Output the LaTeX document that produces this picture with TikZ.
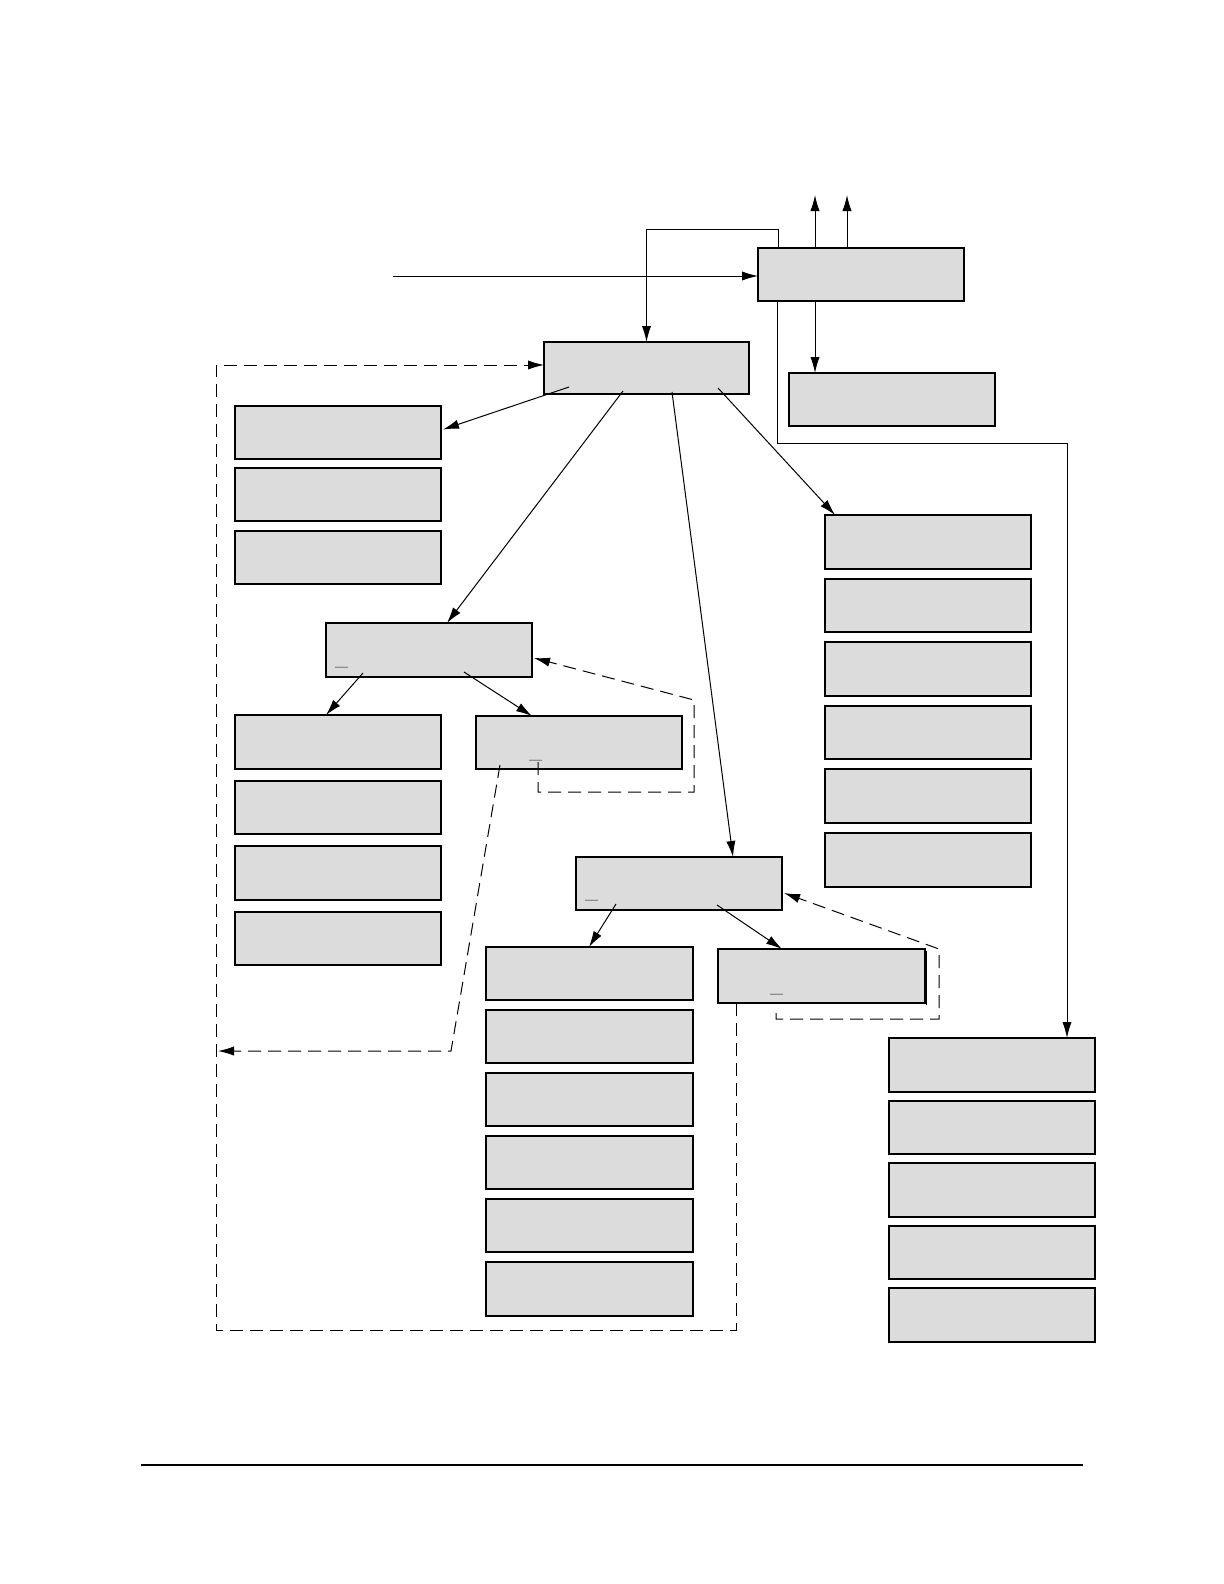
\documentclass[tikz,border=0pt]{standalone}
\usetikzlibrary{arrows.meta,calc}
\definecolor{boxgray}{HTML}{DCDCDC}
\tikzset{
  box/.style={draw=black, fill=boxgray, line width=0.6pt, inner sep=0pt, outer sep=0pt, anchor=north west},
  conn/.style={line width=0.5pt, -{Latex[length=8pt,width=4.6pt]}},
  dconn/.style={conn, dash pattern=on 6.5pt off 3.5pt},
  uscore/.style={anchor=base west, inner sep=0pt, outer sep=0pt, font=\fontsize{8.5}{10}\selectfont},
}
\newcommand{\mybox}[5]{\node[box, minimum width={(#4-#2)*0.5pt}, minimum height={(#5-#3)*0.5pt}] (#1) at (#2,#3) {};}
\begin{document}
\begin{tikzpicture}[x=0.5pt,y=-0.5pt]
\useasboundingbox (0,0) rectangle (1224,1584);
% boxes
\mybox{A}{758}{248}{964}{301}
\mybox{B}{544}{342}{749}{394}
\mybox{C}{789}{373}{995}{426}
\mybox{L1}{235}{406}{441}{459}
\mybox{L2}{235}{468}{441}{521}
\mybox{L3}{235}{531}{441}{584}
\mybox{D}{326}{623}{532}{677}
\mybox{E}{476}{716}{682}{769}
\mybox{L4}{235}{715}{441}{769}
\mybox{L5}{235}{781}{441}{834}
\mybox{L6}{235}{846}{441}{900}
\mybox{L7}{235}{912}{441}{965}
\mybox{F}{576}{857}{782}{910}
\mybox{G}{718}{949}{925}{1003}
\draw[line width=0.6pt] ([xshift=0.9pt,yshift=-1pt]G.north east) -- ([xshift=0.9pt,yshift=-1pt]G.south east);
\mybox{M1}{486}{947}{693}{1000}
\mybox{M2}{486}{1010}{693}{1063}
\mybox{M3}{486}{1073}{693}{1126}
\mybox{M4}{486}{1136}{693}{1189}
\mybox{M5}{486}{1199}{693}{1252}
\mybox{M6}{486}{1262}{693}{1316}
\mybox{R1}{825}{515}{1031}{569}
\mybox{R2}{825}{579}{1031}{632}
\mybox{R3}{825}{642}{1031}{696}
\mybox{R4}{825}{706}{1031}{759}
\mybox{R5}{825}{769}{1031}{823}
\mybox{R6}{825}{833}{1031}{887}
\mybox{P1}{889}{1038}{1095}{1092}
\mybox{P2}{889}{1101}{1095}{1154}
\mybox{P3}{889}{1163}{1095}{1217}
\mybox{P4}{889}{1226}{1095}{1279}
\mybox{P5}{889}{1288}{1095}{1342}
% underscores
\node[uscore] (uD) at (335,665) {\_};
\node[uscore] (uE) at (529,758) {\_};
\node[uscore] (uF) at (585,898) {\_};
\node[uscore] (uG) at (770,992) {\_};
% coordinates
\coordinate (in) at (393,276);
\coordinate (u1) at (815,195);
\coordinate (u2) at (847,195);
\coordinate (lp) at (778,229);
\coordinate (cx) at (815,0);
\coordinate (rc1) at (777,443);
\coordinate (rc2) at (1067,443);
\coordinate (b1) at (569,387);
\coordinate (b2) at (623,391);
\coordinate (b3) at (672,392);
\coordinate (b4) at (718,388);
\coordinate (d1) at (363,673);
\coordinate (d2) at (464,672);
\coordinate (f1) at (616,904);
\coordinate (f2) at (717,905);
% solid connectors
\draw[conn] (in) -- (in -| A.west);
\draw[conn] (u1 |- A.north) -- (u1);
\draw[conn] (u2 |- A.north) -- (u2);
\draw[conn] (lp |- A.north) -- (lp) -| (B.north);
\draw[conn] (cx |- A.south) -- (cx |- C.north);
\draw[conn] (rc1 |- A.south) -- (rc1) -- (rc2) -- (rc2 |- P1.north);
\draw[conn] (b1) -- ($(L1.east)+(2,-3)$);
\draw[conn] (b2) -- ($(D.north west)+(121,0)$);
\draw[conn] (b3) -- ($(F.north west)+(157,0)$);
\draw[conn] (b4) -- ($(R1.north west)+(10,0)$);
\draw[conn] (d1) -- ($(L4.north west)+(91,0)$);
\draw[conn] (d2) -- ($(E.north west)+(56,0)$);
\draw[conn] (f1) -- ($(M1.north west)+(103,0)$);
\draw[conn] (f2) -- ($(G.north west)+(64,0)$);
% dashed connectors
\coordinate (e1) at (538,762);
\coordinate (e2) at (694,792);
\draw[dconn] (e1) -- (e1 |- e2) -- (e2) -- (694,700) -- ($(D.south east)+(2,-19)$);
\coordinate (e3) at (500,765);
\coordinate (e4) at (451,1051);
\draw[dconn] (e3) -- (e4) -- (218,1051);
\coordinate (g1) at (776,1013);
\coordinate (g2) at (939,1019);
\draw[dconn] (g1) -- (g1 |- g2) -- (g2) -- (939,949) -- ($(F.south east)+(2,-17)$);
\coordinate (gx) at (736,1330);
\coordinate (lx) at (216,365);
\draw[dconn] (gx |- G.south) -- (gx) -- (lx |- gx) -- (lx) -- (lx -| B.west);
% bottom rule
\coordinate (r1) at (141,1464.7);
\coordinate (r2) at (1082.7,1464.7);
\draw[line width=1.1pt] (r1) -- (r2);
\end{tikzpicture}
\end{document}
